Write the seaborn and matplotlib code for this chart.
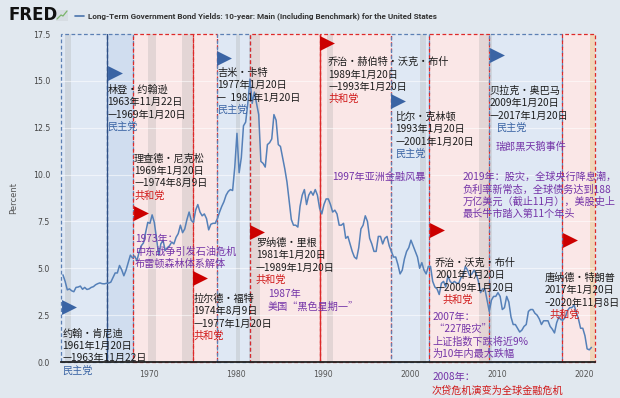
import matplotlib
matplotlib.use("Agg")
import matplotlib.pyplot as plt
from matplotlib.patches import Rectangle
from matplotlib.lines import Line2D
import numpy as np
import pandas as pd
import seaborn as sns

# Long-term govt bond yield, 10y, quarterly values (1960Q1 - 2020Q4)
years = list(range(1960, 2021))
yield_q = [
    4.65, 4.30, 3.85, 3.90,   # 1960
    3.80, 3.75, 3.98, 4.00,
    4.05, 3.88, 3.98, 3.87,
    3.90, 3.98, 4.02, 4.12,
    4.18, 4.22, 4.18, 4.17,
    4.20, 4.21, 4.26, 4.50,   # 1965
    4.75, 4.75, 5.15, 4.92,
    4.60, 4.90, 5.30, 5.70,
    5.55, 5.65, 5.40, 5.85,
    6.20, 6.35, 6.90, 7.45,
    7.40, 7.85, 7.45, 6.60,   # 1970
    5.70, 6.30, 6.50, 5.95,
    6.10, 6.20, 6.40, 6.30,
    6.65, 6.85, 7.30, 6.90,
    7.10, 7.60, 8.00, 7.55,
    7.45, 8.10, 8.40, 8.00,   # 1975
    7.80, 7.90, 7.65, 7.05,
    7.35, 7.40, 7.40, 7.65,
    8.00, 8.30, 8.55, 8.90,
    9.10, 9.20, 9.15, 10.40,
    12.20, 10.10, 10.90, 12.60,  # 1980
    12.80, 13.80, 15.10, 13.80,
    14.40, 13.80, 13.20, 10.70,
    10.60, 10.40, 11.60, 11.70,
    11.90, 13.20, 12.90, 11.60,
    11.50, 10.90, 10.30, 9.60,   # 1985
    8.60, 7.60, 7.30, 7.30,
    7.20, 8.30, 8.90, 9.20,
    8.40, 8.90, 9.10, 8.90,
    9.20, 8.90, 8.20, 7.90,
    8.40, 8.70, 8.70, 8.40,   # 1990
    8.00, 8.10, 7.90, 7.30,
    7.30, 7.40, 6.60, 6.70,
    6.30, 5.90, 5.60, 5.50,
    6.10, 7.10, 7.30, 7.80,
    7.50, 6.60, 6.30, 5.90,   # 1995
    5.90, 6.70, 6.70, 6.30,
    6.60, 6.70, 6.20, 5.90,
    5.60, 5.60, 5.20, 4.70,
    4.90, 5.50, 5.90, 6.10,
    6.50, 6.20, 5.90, 5.60,   # 2000
    5.00, 5.30, 4.90, 4.70,
    5.10, 5.10, 4.30, 4.00,
    3.90, 3.60, 4.20, 4.30,
    4.00, 4.60, 4.30, 4.20,
    4.30, 4.20, 4.20, 4.50,   # 2005
    4.60, 5.10, 4.90, 4.60,
    4.70, 4.90, 4.70, 4.30,
    3.70, 3.90, 3.90, 3.30,
    2.70, 3.30, 3.50, 3.50,
    3.70, 3.50, 2.80, 2.90,   # 2010
    3.50, 3.20, 2.40, 2.00,
    2.00, 1.80, 1.60, 1.70,
    1.90, 2.00, 2.70, 2.80,
    2.80, 2.60, 2.50, 2.30,
    2.00, 2.20, 2.20, 2.20,   # 2015
    1.90, 1.75, 1.55, 2.10,
    2.40, 2.25, 2.25, 2.40,
    2.75, 2.90, 2.90, 3.05,
    2.65, 2.30, 1.80, 1.80,
    1.40, 0.70, 0.65, 0.78,   # 2020
]

# NBER recessions (shaded)
rec_start = [1960.33, 1969.92, 1973.83, 1980.0, 1981.5, 1990.5, 2001.17, 2007.92]
rec_end = [1961.08, 1970.83, 1975.17, 1980.5, 1982.83, 1991.17, 2001.83, 2009.42]
# tan strip at the right end
covid_start, covid_end = 2020.7, 2021.28

# presidential boxes as pasted on the chart
names = ["约翰・肯尼迪", "林登・约翰逊", "理查德・尼克松", "拉尔德・福特", "吉米・卡特",
         "罗纳德・里根", "乔治・赫伯特・沃克・布什", "比尔・克林顿", "乔治・沃克・布什",
         "贝拉克・奥巴马", "唐纳德・特朗普"]
term_from = ["1961年1月20日", "1963年11月22日", "1969年1月20日", "1974年8月9日", "1977年1月20日",
             "1981年1月20日", "1989年1月20日", "1993年1月20日", "2001年1月20日",
             "2009年1月20日", "2017年1月20日"]
term_to = ["—1963年11月22日", "—1969年1月20日", "—1974年8月9日", "—1977年1月20日", "—  1981年1月20日",
           "—1989年1月20日", "—1993年1月20日", "—2001年1月20日", "—2009年1月20日",
           "—2017年1月20日", "–2020年11月8日"]
party = ["民主党", "民主党", "共和党", "共和党", "民主党", "共和党", "共和党", "民主党",
         "共和党", "民主党", "共和党"]
box_start = [1959.9, 1965.19, 1968.18, 1975.07, 1977.83, 1981.62, 1989.67, 1997.83,
             2002.2, 2009.1, 2017.49]
box_end = box_start[1:] + [2021.28]
flag_y = [2.93, 15.4, 7.95, 4.48, 16.2, 6.94, 17.0, 13.9, 7.04, 16.4, 6.5]

# event notes
events = [
    ["1973年：", "中东战争引发石油危机", "布雷顿森林体系解体"],
    ["1987年", "美国“黑色星期一”"],
    ["1997年亚洲金融风暴"],
    ["瑞郎黑天鹅事件"],
    ["2019年：股灾，全球央行降息潮，", "负利率新常态，全球债务达到188",
     "万亿美元（截止11月），美股史上", "最长牛市踏入第11个年头"],
    ["2007年：", " “227股灾”", "上证指数下跌将近9%", "为10年内最大跌幅"],
]

# ---- layout ----
sns.set_style("white")
plt.rcParams['font.family'] = ['Noto Sans CJK SC', 'DejaVu Sans']

BG = "#e1e8ef"
BLUE_FILL, BLUE_FILL2, RED_FILL = "#dfe8f4", "#d0ddef", "#fae7e7"
BLUE_EDGE, RED_EDGE = "#5c80b4", "#dd2a2a"
BLUE_TXT, RED_TXT, PURPLE, DARK = "#3a64a4", "#d01818", "#7434a8", "#1c1c1c"

fig = plt.figure(figsize=(6.2, 3.98), dpi=100)
fig.patch.set_facecolor(BG)
ax = fig.add_axes([61 / 620, 36 / 398, 534 / 620, 328 / 398])
ax.set_facecolor("#eef2f7")
ax.set_xlim(1959.9, 2021.28)
ax.set_ylim(0, 17.5)
px_per_year = 534 / (2021.28 - 1959.9)

# term boxes
for i in range(len(names)):
    dem = party[i] == "民主党"
    fc = BLUE_FILL2 if i == 1 else (BLUE_FILL if dem else RED_FILL)
    ax.add_patch(Rectangle((box_start[i], 0), box_end[i] - box_start[i], 17.5,
                           facecolor=fc, edgecolor="none", zorder=0.5))

# recession bands
for a, b in zip(rec_start, rec_end):
    ax.axvspan(a, b, color="#a8a8a8", alpha=0.28, lw=0, zorder=0.8)
ax.axvspan(covid_start, covid_end, color="#eccfa6", alpha=0.7, lw=0, zorder=0.8)

# grid
for v in np.arange(2.5, 17.5, 2.5):
    ax.axhline(v, color="white", lw=0.8, alpha=0.55, zorder=1)

# box outlines (dashed)
for i in range(len(names)):
    dem = party[i] == "民主党"
    ec = BLUE_EDGE if dem else RED_EDGE
    ax.add_patch(Rectangle((box_start[i], 0), box_end[i] - box_start[i], 17.5,
                           facecolor="none", edgecolor=ec, lw=0.9, ls=(0, (3, 2)),
                           clip_on=False, zorder=2))
ax.axvline(box_start[1], color="#2f4f85", lw=0.9, zorder=2.1)
ax.axvline(box_start[6], color=RED_EDGE, lw=0.9, zorder=2.1)

# yield line
df = pd.DataFrame({
    "date": [y + (q + 0.5) / 4 for y in years for q in range(4)],
    "value": yield_q,
})
sns.lineplot(data=df, x="date", y="value", ax=ax, color="#5580b8", lw=1.1, zorder=3)

# flags
dx = 7.5 / px_per_year
for i in range(len(names)):
    c = BLUE_TXT if party[i] == "民主党" else "#cc0000"
    ax.scatter(box_start[i] + dx, flag_y[i], marker=">", s=115, color=c,
               linewidths=0, zorder=4, clip_on=False)

FS = 7.3
DY = 0.66


def block(x, y, lines, dy=DY):
    # lines: (text, color, x shift)
    for k, (s, c, sx) in enumerate(lines):
        ax.text(x + sx, y - k * dy, s, color=c, fontsize=FS, va="center", ha="left",
                clip_on=False, zorder=6)


# president label positions (x of left edge, y of first line)
label_pos = [(1960.05, 1.52), (1965.25, 14.51), (1968.3, 10.87), (1975.1, 3.36),
             (1977.85, 15.42), (1982.3, 6.35), (1990.6, 16.0), (1998.3, 13.07),
             (2002.9, 5.28), (2009.1, 14.46), (2015.5, 4.48)]
party_shift = [0, 0, 0, 0, 0, 0, 0, 0, 0.8, 0.8, 0.6]
for i in range(len(names)):
    pc = BLUE_TXT if party[i] == "民主党" else RED_TXT
    x, y = label_pos[i]
    block(x, y, [(names[i], DARK, 0), (term_from[i], DARK, 0),
                 (term_to[i], DARK, 0), (party[i], pc, party_shift[i])])

event_pos = [(1968.4, 6.56), (1983.7, 3.63), (1991.05, 9.87), (2009.9, 11.47),
             (2006.1, 9.87), (2002.55, 2.40)]
for lines, (x, y) in zip(events, event_pos):
    block(x, y, [(s, PURPLE, 0) for s in lines])

block(2002.55, -0.80, [("2008年：", PURPLE, 0), ("次贷危机演变为全球金融危机", RED_TXT, 0)],
      dy=0.75)

# axes styling
for s in ["top", "right", "left"]:
    ax.spines[s].set_visible(False)
ax.spines["bottom"].set_color("#222222")
ax.spines["bottom"].set_linewidth(1.3)
ax.spines["bottom"].set_zorder(5)
ax.set_yticks(np.arange(0, 17.6, 2.5))
ax.set_yticklabels([f"{v:.1f}" for v in np.arange(0, 17.6, 2.5)])
ax.set_xticks([1970, 1980, 1990, 2000, 2010, 2020])
ax.tick_params(axis="y", length=0, pad=8, labelsize=5.6, labelcolor="#444444")
ax.tick_params(axis="x", length=0, pad=6, labelsize=5.6, labelcolor="#555555")
for t in ax.get_xticklabels() + ax.get_yticklabels():
    t.set_family("DejaVu Sans")
ax.set_xlabel("")
ax.set_ylabel("Percent", fontsize=6, color="#555555", family="DejaVu Sans")
ax.yaxis.set_label_coords(-0.08, 0.5)

# header
fig.text(8 / 620, 1 - 15 / 398, "FRED", fontsize=12, weight="bold", family="DejaVu Sans",
         color="#111111", va="center", ha="left")
fig.add_artist(Rectangle((56 / 620, 1 - 21 / 398), 12 / 620, 11 / 398,
                         transform=fig.transFigure, facecolor="#d7dde3", edgecolor="none"))
fig.add_artist(Line2D([57 / 620, 61 / 620, 63 / 620, 67 / 620],
                      [1 - 19 / 398, 1 - 15 / 398, 1 - 16 / 398, 1 - 11 / 398],
                      transform=fig.transFigure, color="#7ab56a", lw=0.9))
fig.add_artist(Line2D([75 / 620, 84 / 620], [1 - 16 / 398, 1 - 16 / 398],
                      transform=fig.transFigure, color="#4a74ac", lw=1.2))
fig.text(88 / 620, 1 - 16 / 398,
         "Long-Term Government Bond Yields: 10-year: Main (Including Benchmark) for the United States",
         fontsize=5.9, weight="bold", family="Roboto", color="#333333", va="center", ha="left")

fig.savefig("out.png", dpi=100, facecolor=fig.get_facecolor())
